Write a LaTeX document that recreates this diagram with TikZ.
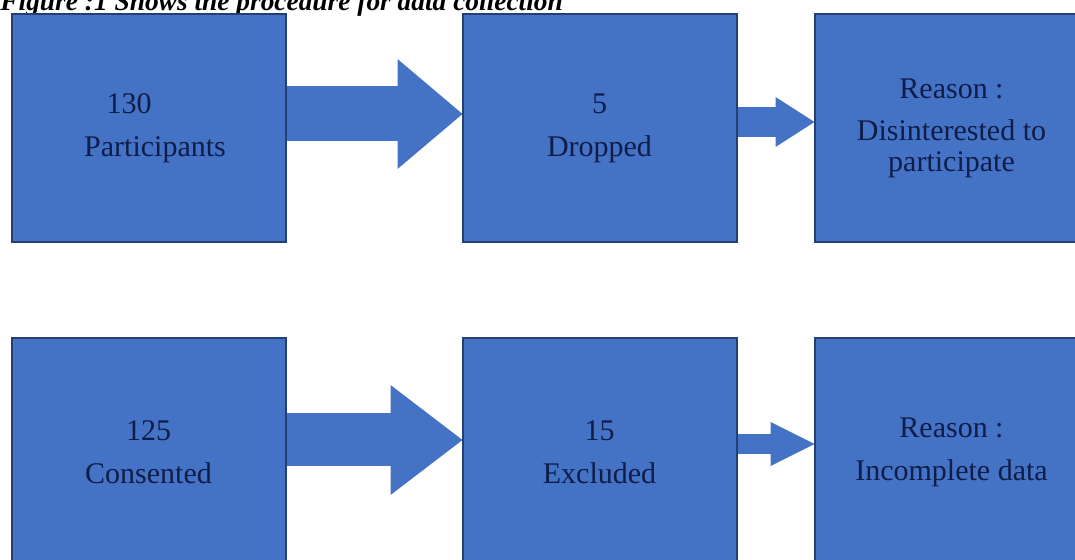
\documentclass[tikz,border=0pt]{standalone}
\usepackage{fontspec}
\setmainfont{Liberation Serif}
\usetikzlibrary{positioning}
\usetikzlibrary{arrows.meta}
\usetikzlibrary{backgrounds}

\definecolor{boxblue}{HTML}{4472C4}
\definecolor{boxedge}{HTML}{243F73}
\definecolor{inkblue}{HTML}{0E1D4A}

\tikzset{
  blk/.style={draw=boxedge, line width=1pt, fill=boxblue, text=inkblue,
    minimum width=137pt, minimum height=114pt, inner sep=0pt, outer sep=0pt,
    align=center, font=\fontsize{15}{15.5}\selectfont},
  fatarr/.style n args={3}{boxblue, line width=#1,
    -{Triangle[width=#2, length=#3, line width=0pt]}}
}

\begin{document}
\begin{tikzpicture}[x=0.5pt, y=-0.5pt]
    \useasboundingbox (0,0) rectangle (1075,560);

        % Define nodes
        \node[anchor=base west, inner sep=0pt,
          font=\fontsize{13.7}{16}\selectfont\bfseries\itshape] (title) at (0,11)
          {Figure :1 Shows the procedure for data collection};
        \node[blk] at (148.5,128)        (part) {130\hspace*{19.5pt}\\[6pt]\hspace*{6.5pt}Participants};
        \node[blk, right=88.5pt of part] (drop) {5\\[6pt]Dropped};
        \node[blk, right=39pt of drop]   (why1) {Reason :\\[5.5pt]Disinterested to\\participate};
        \node[blk, below=48pt of part]   (cons) {125\\[6pt]Consented};
        \node[blk, right=88.5pt of cons] (excl) {15\\[6pt]Excluded};
        \node[blk, right=39pt of excl]   (why2) {Reason :\\[6pt]Incomplete data};

        % Connect the nodes
        \begin{scope}[on background layer]
        \draw[fatarr={27.5pt}{55pt}{32.5pt}] ([yshift=7pt]part.east) -- ([yshift=7pt]drop.west);
        \draw[fatarr={15pt}{25pt}{19.5pt}]   ([yshift=3pt]drop.east) -- ([yshift=3pt]why1.west);
        \draw[fatarr={26.5pt}{55pt}{36pt}]   ([yshift=6pt]cons.east) -- ([yshift=6pt]excl.west);
        \draw[fatarr={10pt}{22pt}{22pt}]     ([yshift=4pt]excl.east) -- ([yshift=4pt]why2.west);
        \end{scope}
      \end{tikzpicture}
\end{document}
